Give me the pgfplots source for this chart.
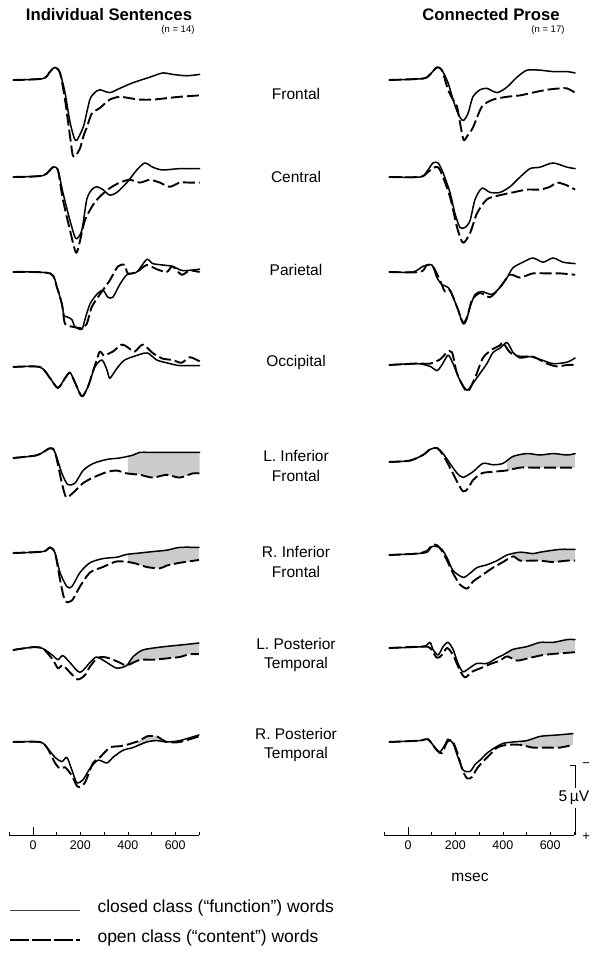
\documentclass[border=0pt]{standalone}
\usepackage{pgfplots}
\pgfplotsset{compat=1.18}
\usepgfplotslibrary{fillbetween}
\usepackage{fontspec}
\setmainfont{Liberation Sans}

% one panel: time in ms, amplitude in microvolts, negative up;
% the lower left corner sits 100 ms left of and 7 uV below the stimulus point
\pgfplotsset{
  erp/.style={x=0.237pt, y=14pt, y dir=reverse, xmin=-100, xmax=720,
    ymin=-3, ymax=7, axis lines=none, clip=false, anchor=south west, set layers},
  closed/.style={black, line width=1.5pt, smooth, tension=0.45,
    line join=round, line cap=round},
  open/.style={black, line width=1.9pt, smooth, tension=0.45,
    line join=round, dash pattern=on 12pt off 4pt},
  diff/.style={fill=gray!40, draw=none},
  timeaxis/.style={x=0.237pt, y=10pt, xmin=-100, xmax=700, ymin=0, ymax=1,
    anchor=south west, axis x line=bottom, axis y line=none,
    x axis line style={-, line width=0.6pt},
    xtick={200,400,600}, minor xtick={-100,100,300,500,700},
    extra x ticks={0}, extra x tick style={major tick length=8pt},
    tick align=inside, major tick length=3pt, minor tick length=3pt,
    tick style={black, line width=0.5pt},
    /pgf/number format/assume math mode=true,
    ticklabel style={font=\fontsize{12.5}{14}\selectfont, yshift=-2pt}},
}
\tikzset{lab/.style={font=\fontsize{15.5}{19.5}\selectfont, align=center}}

\begin{document}
\begin{tikzpicture}[x=1pt,y=1pt]
\path (0,0) rectangle (592,957);

% ---------------- Individual Sentences ----------------
% Frontal
\begin{axis}[erp, at={(9.3pt,779pt)}]
\addplot[closed] coordinates {(-84,0) (42,-0.1) (72,-0.6) (93,-0.9) (114,-0.5) (135,0.9) (156,3.0) (175,4.2) (185,4.3) (198,3.9) (215,3.2) (240,1.4) (261,0.9) (282,0.7) (324,0.9) (366,0.6) (421,0.2) (493,-0.2) (547,-0.5) (589,-0.4) (648,-0.3) (703,-0.4)};
\addplot[open] coordinates {(-84,0) (42,-0.1) (72,-0.6) (93,-0.9) (114,-0.5) (135,1.4) (156,4.0) (168,5.4) (180,5.4) (198,4.9) (215,3.9) (227,3.4) (248,2.4) (282,2.0) (324,1.4) (366,1.2) (408,1.3) (451,1.4) (505,1.4) (564,1.3) (619,1.2) (703,1.1)};
\end{axis}
% Central
\begin{axis}[erp, at={(9.3pt,682pt)}]
\addplot[closed] coordinates {(-84,0) (42,-0.1) (84,-0.7) (105,-0.5) (126,1.1) (156,3.1) (181,4.4) (206,3.8) (227,1.6) (248,0.9) (269,0.7) (295,0.9) (324,1.3) (354,1.1) (396,0.4) (438,-0.5) (472,-1.0) (505,-0.7) (547,-0.5) (619,-0.6) (703,-0.6)};
\addplot[open] coordinates {(-84,0) (42,-0.1) (84,-0.7) (105,-0.5) (126,1.6) (156,3.8) (181,5.4) (195,4.8) (219,3.1) (253,2.0) (282,1.4) (324,0.8) (366,0.4) (408,0.2) (451,0.4) (493,0.2) (535,0.4) (577,0.7) (619,0.4) (661,0.4) (703,0.4)};
\end{axis}
% Parietal
\begin{axis}[erp, at={(9.3pt,587pt)}]
\addplot[closed] coordinates {(-84,0) (72,0.1) (101,1.1) (122,2.3) (131,3.1) (143,3.2) (164,3.4) (177,3.9) (206,4.1) (219,3.4) (240,2.3) (269,1.6) (295,1.3) (316,1.8) (337,1.8) (366,0.9) (396,0.2) (438,0) (480,-0.9) (505,-0.6) (547,-0.5) (589,-0.4) (632,-0.1) (703,-0.2)};
\addplot[open] coordinates {(-84,0) (72,0.1) (101,1.1) (122,2.3) (135,3.7) (164,3.9) (206,4.0) (227,3.7) (248,2.5) (282,1.6) (324,0.6) (358,-0.4) (387,-0.5) (400,0.1) (438,0) (480,-0.5) (522,-0.2) (564,0) (589,-0.4) (627,0.2) (661,-0.1) (703,0)};
\end{axis}
% Occipital
\begin{axis}[erp, at={(9.3pt,492pt)}]
\addplot[closed] coordinates {(-84,0) (29,0) (72,0.8) (105,1.5) (135,0.8) (156,0.4) (177,1.1) (206,2.1) (232,1.4) (261,0) (291,-0.5) (312,0.2) (324,0.8) (354,0.1) (387,-0.5) (451,-0.9) (484,-1.0) (522,-0.5) (564,-0.3) (619,-0.1) (703,-0.1)};
\addplot[open] coordinates {(-84,0) (29,0) (72,0.8) (105,1.5) (135,0.8) (156,0.4) (177,1.1) (206,2.1) (232,1.4) (255,0.2) (269,-0.5) (282,-1.1) (300,-0.8) (312,-0.9) (337,-1.1) (375,-1.6) (400,-1.4) (429,-1.1) (463,-1.6) (505,-1.0) (547,-0.6) (589,-0.5) (627,-0.3) (661,-0.7) (703,-0.4)};
\end{axis}
% L. Inferior Frontal
\begin{axis}[erp, at={(9.3pt,401pt)}]
\addplot[closed, name path=c] coordinates {(-84,0) (17,-0.2) (72,-0.7) (93,-0.4) (122,1.1) (147,1.9) (177,1.8) (211,0.9) (253,0.4) (312,0.1) (366,0) (421,-0.2) (451,-0.4) (522,-0.4) (589,-0.4) (648,-0.4) (703,-0.4)};
\addplot[open, name path=o] coordinates {(-84,0) (17,-0.2) (72,-0.7) (93,-0.4) (122,1.8) (140,2.8) (168,2.5) (211,1.8) (253,1.4) (312,1.0) (354,0.9) (396,1.1) (451,1.2) (505,1.4) (564,1.2) (619,1.4) (674,1.1) (703,1.1)};
\addplot[diff] fill between[of=c and o, soft clip={domain=400:703}];
\end{axis}
% R. Inferior Frontal
\begin{axis}[erp, at={(9.3pt,306pt)}]
\addplot[closed, name path=c] coordinates {(-84,0) (42,-0.1) (72,-0.4) (93,0) (114,1.4) (143,2.4) (164,2.4) (198,1.4) (240,0.7) (295,0.4) (354,0.3) (396,0.1) (451,0) (505,-0.1) (564,-0.2) (619,-0.4) (700,-0.4)};
\addplot[open, name path=o] coordinates {(-84,0) (42,-0.1) (72,-0.4) (93,0) (114,1.9) (135,3.4) (164,3.4) (198,2.4) (240,1.4) (295,1.0) (354,0.6) (421,0.7) (480,1.0) (535,1.1) (564,0.9) (619,0.7) (700,0.5)};
\addplot[diff] fill between[of=c and o, soft clip={domain=400:700}];
\end{axis}
% L. Posterior Temporal
\begin{axis}[erp, at={(9.3pt,209pt)}]
\addplot[closed, name path=c] coordinates {(-84,0) (0,-0.2) (42,-0.1) (84,0.4) (105,0.7) (126,0.4) (156,0.9) (198,1.6) (240,0.9) (269,0.5) (312,0.9) (354,1.3) (396,1.1) (421,0.5) (463,0) (535,-0.2) (589,-0.3) (648,-0.4) (700,-0.5)};
\addplot[open, name path=o] coordinates {(-84,0) (0,-0.2) (42,-0.1) (84,0.7) (105,1.3) (126,1.1) (156,1.6) (189,2.1) (219,1.8) (240,1.2) (269,0.6) (295,0.5) (324,0.6) (366,0.9) (396,1.1) (451,0.7) (505,0.7) (564,0.6) (619,0.5) (661,0.3) (700,0.3)};
\addplot[diff] fill between[of=c and o, soft clip={domain=400:700}];
\end{axis}
% R. Posterior Temporal
\begin{axis}[erp, at={(9.3pt,117pt)}]
\addplot[closed, name path=c] coordinates {(-84,0) (29,0) (59,0.4) (93,1.1) (122,1.4) (143,1.1) (164,2.0) (185,2.9) (211,2.7) (240,1.9) (274,1.3) (312,1.5) (337,1.1) (379,0.6) (421,0.4) (480,0) (522,-0.1) (564,0) (619,-0.1) (700,-0.5)};
\addplot[open, name path=o] coordinates {(-84,0) (29,0) (59,0.4) (93,1.5) (114,1.9) (135,1.8) (164,2.4) (189,3.2) (219,2.9) (253,1.5) (282,1.1) (324,0.4) (366,0.3) (396,0.2) (451,-0.1) (480,-0.4) (522,-0.4) (564,0) (619,0) (700,-0.4)};
\addplot[diff] fill between[of=c and o, soft clip={domain=440:560}];
\end{axis}
\begin{axis}[timeaxis, at={(9.3pt,122pt)}]
\end{axis}

% ---------------- Connected Prose ----------------
% Frontal
\begin{axis}[erp, at={(384.3pt,779pt)}]
\addplot[closed] coordinates {(-80,0) (63,-0.1) (93,-0.4) (122,-0.9) (143,-0.7) (169,0.2) (190,1.4) (211,2.4) (232,2.9) (253,2.4) (274,1.2) (304,0.7) (333,0.6) (376,0.9) (418,0.5) (460,-0.2) (502,-0.7) (557,-0.7) (612,-0.6) (671,-0.6) (705,-0.5)};
\addplot[open] coordinates {(-80,0) (63,-0.1) (93,-0.4) (122,-0.9) (143,-0.7) (169,0.7) (190,1.4) (207,1.9) (222,3.3) (235,4.3) (250,4.0) (274,3.4) (312,1.9) (359,1.4) (418,1.2) (473,1.1) (527,0.9) (586,0.7) (641,0.6) (671,0.6) (705,0.9)};
\end{axis}
% Central
\begin{axis}[erp, at={(384.3pt,682pt)}]
\addplot[closed] coordinates {(-80,0) (51,0) (80,-0.4) (105,-1.0) (127,-1.0) (148,-0.3) (177,1.1) (198,2.6) (219,3.6) (241,3.6) (262,3.1) (283,1.6) (312,0.8) (346,1.1) (388,1.1) (430,0.7) (473,0) (515,-0.6) (557,-0.7) (612,-1.0) (671,-0.7) (705,-0.6)};
\addplot[open] coordinates {(-80,0) (51,0) (80,-0.3) (114,-0.7) (135,-0.5) (177,1.4) (207,3.6) (232,4.7) (262,4.0) (291,2.6) (333,1.6) (388,1.3) (443,1.1) (502,0.9) (557,0.9) (599,0.7) (629,0.4) (671,0.6) (705,0.9)};
\end{axis}
% Parietal
\begin{axis}[erp, at={(384.3pt,587pt)}]
\addplot[closed] coordinates {(-80,0) (21,0) (63,-0.4) (101,-0.5) (122,0.4) (143,0.9) (169,1.1) (190,1.8) (211,2.7) (232,3.7) (245,3.5) (262,2.5) (283,1.6) (312,1.4) (354,1.6) (388,1.1) (418,0.4) (443,-0.3) (485,-0.7) (527,-1.0) (570,-0.7) (612,-1.0) (654,-0.7) (705,-0.6)};
\addplot[open] coordinates {(-80,0) (51,0) (80,-0.5) (105,-0.4) (135,0.6) (156,1.4) (177,1.3) (207,2.5) (232,3.6) (250,3.2) (270,2.0) (304,1.5) (346,1.8) (388,1.1) (430,0.2) (473,0.4) (527,0.1) (586,0.1) (641,0.1) (705,0.2)};
\end{axis}
% Occipital
\begin{axis}[erp, at={(384.3pt,494pt)}]
\addplot[closed] coordinates {(-80,0) (38,-0.1) (93,0.1) (122,0.4) (143,0) (169,-0.7) (190,-0.1) (219,1.1) (249,1.8) (274,1.3) (304,0.6) (333,-0.1) (359,-0.9) (388,-1.2) (418,-1.6) (443,-0.9) (473,-0.5) (515,-0.6) (557,-0.4) (612,-0.1) (671,-0.2) (705,-0.5)};
\addplot[open] coordinates {(-80,0) (38,-0.1) (93,-0.1) (135,-0.4) (165,-0.9) (186,-0.9) (207,0.6) (249,1.9) (283,0.9) (316,-0.5) (354,-1.1) (388,-1.4) (401,-1.6) (430,-0.9) (473,-0.6) (527,-0.6) (586,-0.1) (629,0.1) (671,0) (705,0)};
\end{axis}
% L. Inferior Frontal
\begin{axis}[erp, at={(384.3pt,397pt)}]
\addplot[closed, name path=c] coordinates {(-80,0) (8,-0.1) (63,-0.5) (93,-0.9) (122,-1.0) (148,-0.6) (177,0.1) (207,0.8) (232,1.1) (274,0.7) (316,0.1) (359,0.2) (401,0.1) (443,-0.4) (502,-0.6) (557,-0.5) (612,-0.6) (671,-0.5) (705,-0.6)};
\addplot[open, name path=o] coordinates {(-80,0) (8,-0.1) (63,-0.5) (93,-0.9) (122,-1.0) (148,-0.5) (177,0.4) (207,1.4) (232,2.1) (253,1.9) (274,1.3) (312,0.8) (359,0.7) (418,0.6) (473,0.4) (527,0.4) (586,0.4) (641,0.4) (705,0.4)};
\addplot[diff] fill between[of=c and o, soft clip={domain=418:705}];
\end{axis}
% R. Inferior Frontal
\begin{axis}[erp, at={(384.3pt,304pt)}]
\addplot[closed, name path=c] coordinates {(-80,0) (38,-0.1) (80,-0.2) (101,-0.6) (122,-0.6) (143,-0.4) (165,0.2) (190,1.1) (232,1.6) (262,1.3) (291,0.9) (333,0.7) (376,0.4) (418,0) (473,-0.2) (527,-0.1) (557,-0.2) (641,-0.4) (705,-0.4)};
\addplot[open, name path=o] coordinates {(-80,0) (38,-0.1) (80,-0.3) (101,-0.7) (122,-0.7) (143,-0.3) (165,0.4) (190,1.3) (219,2.1) (249,2.4) (274,1.9) (316,1.4) (359,0.9) (401,0.5) (443,0.1) (473,0.4) (527,0.4) (557,0.4) (612,0.5) (671,0.4) (705,0.4)};
\addplot[diff] fill between[of=c and o, soft clip={domain=443:705}];
\end{axis}
% L. Posterior Temporal
\begin{axis}[erp, at={(384.3pt,211pt)}]
\addplot[closed, name path=c] coordinates {(-80,0) (63,-0.1) (93,-0.4) (105,0.1) (127,0.5) (148,-0.1) (169,-0.4) (190,0.1) (211,1.1) (232,1.7) (262,1.4) (291,1.1) (333,1.1) (376,0.7) (401,0.5) (443,0.1) (502,-0.1) (557,-0.4) (612,-0.4) (671,-0.6) (705,-0.6)};
\addplot[open, name path=o] coordinates {(-80,0) (63,-0.1) (93,0) (122,0.7) (143,0.5) (165,0) (190,0.5) (219,1.6) (241,2.1) (270,1.7) (312,1.4) (354,1.1) (388,0.9) (418,0.6) (460,0.9) (515,0.7) (570,0.5) (629,0.4) (705,0.3)};
\addplot[diff] fill between[of=c and o, soft clip={domain=418:705}];
\end{axis}
% R. Posterior Temporal, with the 5 microvolt calibration bar
\begin{axis}[erp, at={(384.3pt,117pt)}]
\addplot[closed, name path=c] coordinates {(-80,0) (51,-0.1) (84,-0.2) (114,0.4) (135,0.7) (156,0.2) (169,-0.2) (190,0.1) (211,1.1) (232,2.0) (262,2.1) (283,1.6) (304,1.3) (333,0.8) (367,0.4) (401,0.1) (443,0) (502,-0.1) (557,-0.4) (629,-0.5) (696,-0.6)};
\addplot[open, name path=o] coordinates {(-80,0) (51,-0.1) (84,-0.2) (122,0.6) (143,0.8) (165,0) (186,-0.1) (207,0.7) (228,1.9) (249,2.6) (270,2.5) (291,1.9) (316,1.4) (346,0.9) (376,0.4) (418,0.2) (473,0.2) (527,0.4) (586,0.4) (641,0.4) (696,0.2)};
\addplot[diff] fill between[of=c and o, soft clip={domain=473:696}];
\draw[line width=0.6pt] (axis cs:684,1.64) -- (axis cs:705,1.64) -- (axis cs:705,3.3);
\draw[line width=0.6pt] (axis cs:705,4.7) -- (axis cs:705,6.64);
\node[font=\fontsize{15.5}{18}\selectfont] at (axis cs:700,4.0) {5\,µV};
\node[font=\fontsize{13}{15}\selectfont, inner sep=0pt] at (axis cs:752,1.64) {−};
\node[font=\fontsize{13}{15}\selectfont, inner sep=0pt] at (axis cs:752,6.75) {+};
\end{axis}
\begin{axis}[timeaxis, at={(384.3pt,122pt)}]
\end{axis}

% headings
\node[font=\bfseries\fontsize{16.7}{18}\selectfont] at (109,942) {Individual Sentences};
\node[font=\fontsize{9.5}{11}\selectfont, anchor=east] at (198,927) {(n = 14)};
\node[font=\bfseries\fontsize{16.7}{18}\selectfont] at (491,942) {Connected Prose};
\node[font=\fontsize{9.5}{11}\selectfont, anchor=east] at (568,927) {(n = 17)};

% electrode sites
\node[lab] at (296,863) {Frontal};
\node[lab] at (296,780) {Central};
\node[lab] at (296,687) {Parietal};
\node[lab] at (296,594) {Occipital};
\node[lab] at (296,491) {L. Inferior\\Frontal};
\node[lab] at (296,395) {R. Inferior\\Frontal};
\node[lab] at (296,302) {L. Posterior\\Temporal};
\node[lab] at (296,212) {R. Posterior\\Temporal};

\node[font=\fontsize{15.5}{18}\selectfont] at (470,80) {msec};

% key
\draw[line width=0.8pt, black!75] (10,47) -- (80,47);
\node[anchor=west, font=\fontsize{17.5}{20}\selectfont] at (94,49) {closed class (“function”) words};
\draw[line width=1.5pt, dash pattern=on 19pt off 3pt] (10,17) -- (80,17);
\node[anchor=west, font=\fontsize{17.5}{20}\selectfont] at (94,19) {open class (“content”) words};
\end{tikzpicture}
\end{document}
